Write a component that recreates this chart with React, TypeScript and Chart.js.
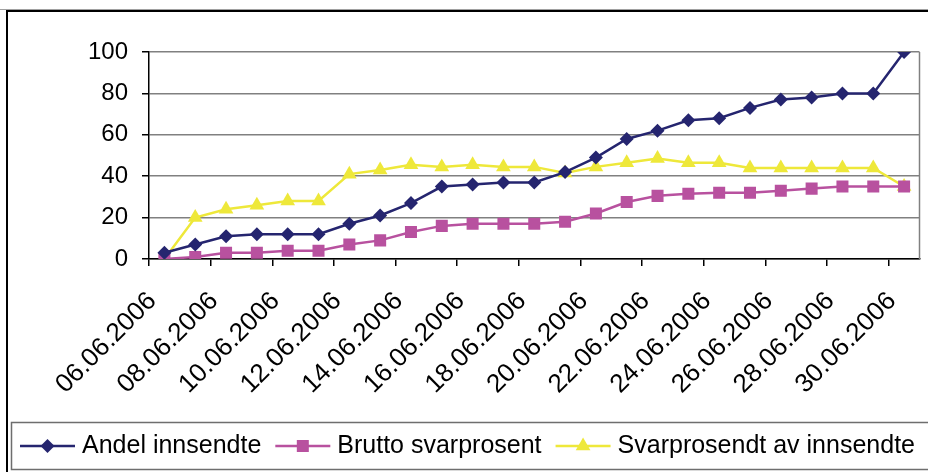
import React, { useEffect, useRef } from 'react';
import { Chart, registerables } from 'chart.js';

Chart.register(...registerables);

const dates = [
  '06.06.2006', '07.06.2006', '08.06.2006', '09.06.2006', '10.06.2006',
  '11.06.2006', '12.06.2006', '13.06.2006', '14.06.2006', '15.06.2006',
  '16.06.2006', '17.06.2006', '18.06.2006', '19.06.2006', '20.06.2006',
  '21.06.2006', '22.06.2006', '23.06.2006', '24.06.2006', '25.06.2006',
  '26.06.2006', '27.06.2006', '28.06.2006', '29.06.2006', '30.06.2006',
];

const andelInnsendte = [3, 7, 11, 12, 12, 12, 17, 21, 27, 35, 36, 37, 37, 42, 49, 58, 62, 67, 68, 73, 77, 78, 80, 80, 100];
const bruttoSvarprosent = [0, 1, 3, 3, 4, 4, 7, 9, 13, 16, 17, 17, 17, 18, 22, 27.5, 30.5, 31.5, 32, 32, 33, 34, 35, 35, 35];
const svarprosentAvInnsendte = [0, 20, 24, 26, 28, 28, 41, 43, 45.5, 44.5, 45.5, 44.5, 44.5, 41.5, 44.5, 46.5, 48.5, 46.5, 46.5, 44, 44, 44, 44, 44, 35];

const seriesNames = ['Andel innsendte', 'Brutto svarprosent', 'Svarprosendt av innsendte'];
const seriesColors = ['#25256F', '#B8519F', '#EEE83A'];
const seriesMarkers = ['rectRot', 'rect', 'triangle'];
const yTicks = [0, 20, 40, 60, 80, 100];

const FONT = '"Liberation Sans", Arial, sans-serif';

function drawMarker(ctx: CanvasRenderingContext2D, style: string, x: number, y: number, color: string) {
  ctx.save();
  ctx.fillStyle = color;
  ctx.beginPath();
  if (style === 'rectRot') {
    const r = 7;
    ctx.moveTo(x, y - r);
    ctx.lineTo(x + r, y);
    ctx.lineTo(x, y + r);
    ctx.lineTo(x - r, y);
  } else if (style === 'rect') {
    const s = 6;
    ctx.rect(x - s, y - s, 2 * s, 2 * s);
  } else {
    const r = 8.5;
    ctx.moveTo(x, y - r);
    ctx.lineTo(x + r * 0.866, y + r * 0.5);
    ctx.lineTo(x - r * 0.866, y + r * 0.5);
  }
  ctx.closePath();
  ctx.fill();
  ctx.restore();
}

const framePlugin = {
  id: 'frame',
  beforeDatasetsDraw(chart: any) {
    const { ctx, chartArea } = chart;
    ctx.save();
    ctx.strokeStyle = '#808080';
    ctx.lineWidth = 1.5;
    ctx.beginPath();
    ctx.moveTo(chartArea.right, chartArea.top);
    ctx.lineTo(chartArea.right, chartArea.bottom);
    ctx.stroke();
    ctx.restore();
  },
  afterDraw(chart: any) {
    const { ctx } = chart;
    ctx.save();
    ctx.strokeStyle = '#a0a0a0';
    ctx.lineWidth = 1;
    ctx.beginPath();
    ctx.moveTo(0, 9.5);
    ctx.lineTo(chart.width, 9.5);
    ctx.stroke();
    ctx.strokeStyle = '#000';
    ctx.lineWidth = 2;
    ctx.strokeRect(7, 11, chart.width + 20, chart.height + 20);
    ctx.strokeStyle = '#6e6e6e';
    ctx.lineWidth = 1.5;
    ctx.strokeRect(11.5, 422.5, chart.width + 20, 47);
    ctx.font = '25px ' + FONT;
    ctx.textBaseline = 'alphabetic';
    let x = 20;
    const yLine = 446;
    chart.data.datasets.forEach((ds: any, i: number) => {
      ctx.strokeStyle = seriesColors[i];
      ctx.lineWidth = 2.5;
      ctx.beginPath();
      ctx.moveTo(x, yLine);
      ctx.lineTo(x + 55, yLine);
      ctx.stroke();
      drawMarker(ctx, seriesMarkers[i], x + 27.5, yLine, seriesColors[i]);
      ctx.fillStyle = '#000';
      const tx = x + 62;
      ctx.fillText(ds.label, tx, 453);
      x = tx + ctx.measureText(ds.label).width + 14;
    });
    ctx.restore();
  },
};

export default function App() {
  const ref = useRef<HTMLCanvasElement | null>(null);

  useEffect(() => {
    if (!ref.current) return;
    const seriesData = [andelInnsendte, bruttoSvarprosent, svarprosentAvInnsendte];
    const chart = new Chart(ref.current, {
      type: 'line',
      data: {
        labels: dates,
        datasets: seriesData.map((d, i) => ({
          label: seriesNames[i],
          data: d,
          borderColor: seriesColors[i],
          backgroundColor: seriesColors[i],
          borderWidth: 2.5,
          pointStyle: seriesMarkers[i] as any,
          pointRadius: i === 0 ? 7 : 8.5,
          pointBorderWidth: 0,
          pointBackgroundColor: seriesColors[i],
          pointBorderColor: seriesColors[i],
          tension: 0,
          fill: false,
        })),
      },
      options: {
        animation: false,
        responsive: false,
        maintainAspectRatio: false,
        layout: { padding: { left: 0, right: 7, top: 52, bottom: 50 } },
        plugins: {
          legend: { display: false },
          title: { display: false },
          tooltip: { enabled: false },
        },
        scales: {
          x: {
            type: 'category',
            offset: true,
            grid: {
              offset: true,
              drawOnChartArea: false,
              tickLength: 7,
              lineWidth: 1.5,
              color: (c: any) => (c.index % 2 === 0 ? '#000' : 'rgba(0,0,0,0)'),
            },
            border: { color: '#000', width: 1.5 },
            ticks: {
              autoSkip: false,
              maxRotation: 45,
              minRotation: 45,
              padding: 20,
              labelOffset: -12,
              color: '#000',
              font: { family: FONT, size: 26 },
              callback: (_v: any, i: number) => (i % 2 === 0 ? dates[i] : ''),
            },
            afterFit: (s: any) => {
              s.height = 163;
              s.paddingLeft = 0;
              s.paddingRight = 0;
            },
          },
          y: {
            min: 0,
            max: 100,
            ticks: {
              stepSize: 20,
              padding: 14,
              color: '#000',
              font: { family: FONT, size: 24 },
              callback: (v: any) => (yTicks.includes(v) ? String(v) : ''),
            },
            grid: { color: '#808080', lineWidth: 1.5, tickLength: 7, tickColor: '#000' },
            border: { color: '#000', width: 1.5 },
            afterFit: (s: any) => {
              s.width = 149;
              s.paddingTop = 0;
              s.paddingBottom = 0;
            },
          },
        },
      },
      plugins: [framePlugin],
    });
    return () => chart.destroy();
  }, []);

  return (
    <div style={{ position: 'absolute', left: 0, top: 0, width: 928, height: 472, background: '#fff' }}>
      <canvas ref={ref} width={928} height={472} style={{ width: 928, height: 472, display: 'block' }} />
    </div>
  );
}
